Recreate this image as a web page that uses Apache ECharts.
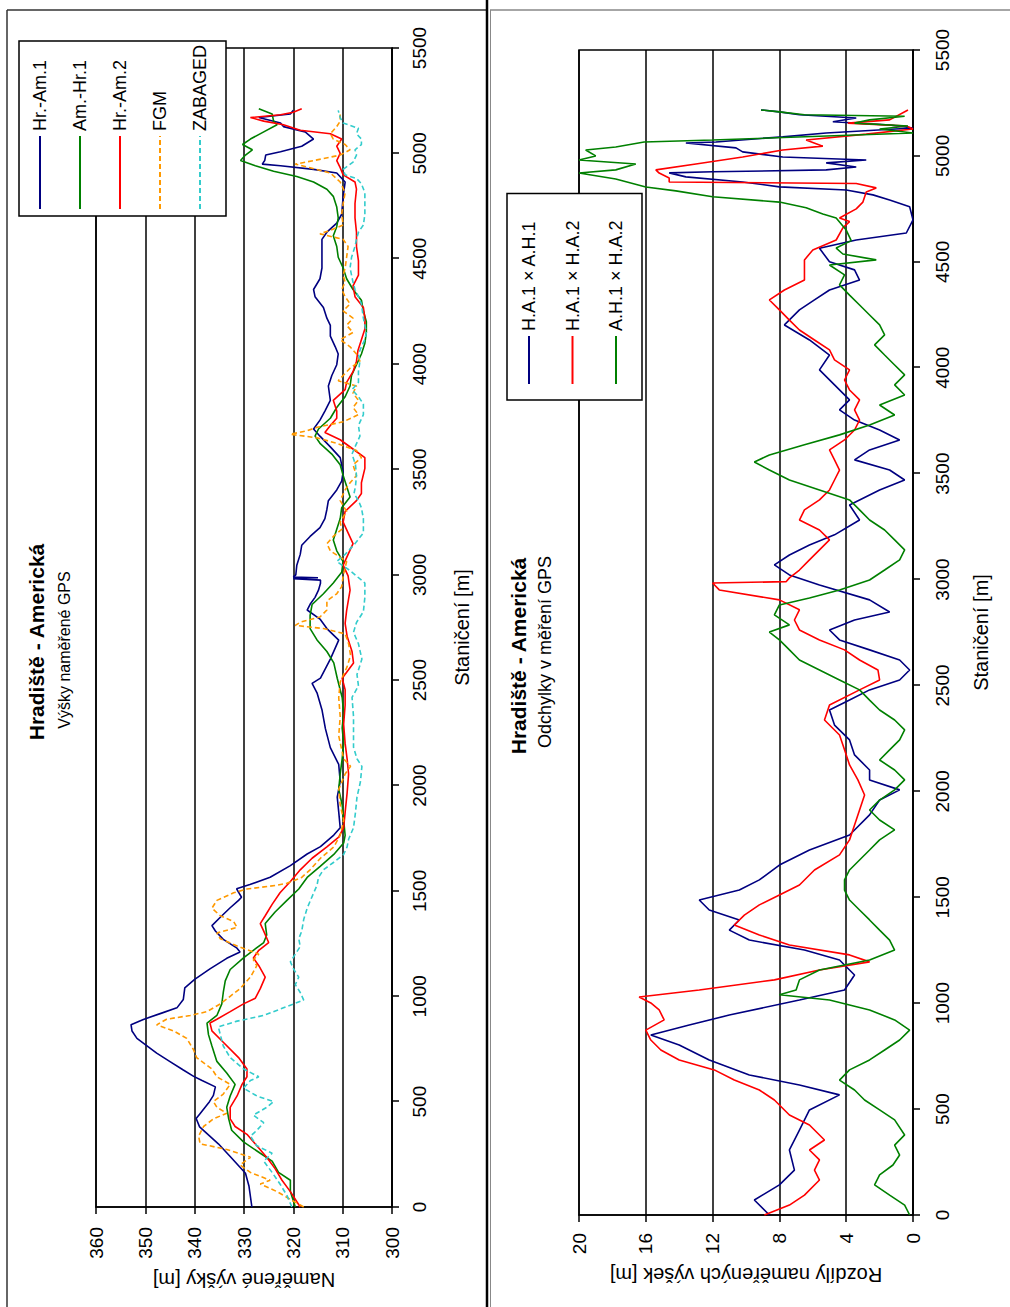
<!DOCTYPE html>
<html>
<head>
<meta charset="utf-8">
<title>Hradiště - Americká</title>
<script src="https://cdn.jsdelivr.net/npm/echarts@6.0.0/dist/echarts.min.js"></script>
<style>
  html, body { margin: 0; padding: 0; background: #fff; overflow: hidden; width: 1010px; height: 1307px; }
  /* the chart is drawn landscape and turned 90 degrees counter-clockwise, like the scanned sheet */
  #chart { position: absolute; left: 0; top: 0; width: 1307px; height: 1010px;
           transform-origin: 0 0; transform: translate(0, 1307px) rotate(-90deg); }
</style>
</head>
<body>
<div id="chart"></div>
<script>
// [staničení m, výška m]
const hrAm1 = [[0,328.4],[100,329],[160,329.7],[240,332.8],[300,335.2],[380,339],[420,339.7],[440,339],[470,338],[500,337],[530,336.2],[570,335.8],[600,338.5],[620,340.2],[650,342.3],[690,345],[730,347.7],[760,349.4],[800,351.7],[835,352.7],[865,352.9],[890,350.4],[920,346.7],[945,343.6],[985,342.3],[1040,342],[1080,340],[1130,336.9],[1180,333.5],[1210,330.8],[1230,331.5],[1270,334.2],[1310,335.8],[1335,336.5],[1375,334.8],[1420,332.8],[1455,331.1],[1470,330.5],[1510,331.5],[1530,328.8],[1565,324.7],[1620,320.6],[1675,317.2],[1710,314.5],[1765,311.8],[1800,310.5],[1875,310.8],[1945,311.1],[2020,310.5],[2100,310.8],[2180,312.5],[2270,313.5],[2360,314.2],[2440,315.2],[2485,316.2],[2510,314.5],[2600,312.5],[2690,310.8],[2745,313.2],[2790,314.6],[2833,317.2],[2860,316.6],[2893,315.6],[2927,314.9],[2960,314.5],[2975,314.5],[2982,320],[2986,315],[2990,320],[3000,319.5],[3045,319.3],[3097,318.6],[3140,318.3],[3182,316.6],[3224,314.6],[3267,313.6],[3310,313.2],[3352,312.9],[3403,311.2],[3445,310.2],[3488,309.9],[3556,310.5],[3607,312.5],[3658,314.6],[3692,315.9],[3734,314.6],[3777,313.6],[3828,312.5],[3896,312.9],[3946,312.2],[3997,311.2],[4048,310.9],[4082,311.5],[4133,312.5],[4184,312.5],[4218,313.2],[4269,313.9],[4320,315.6],[4354,315.9],[4405,314.6],[4456,314.2],[4524,314.2],[4592,314.2],[4626,313.2],[4669,311.2],[4711,310.2],[4796,309.9],[4864,309.5],[4907,311.2],[4924,315.9],[4941,322.6],[4949,326.3],[4966,325.8],[4992,325.6],[5008,322.6],[5034,318.3],[5068,315.9],[5102,317.6],[5127,322],[5144,322.6],[5170,327],[5187,320.6],[5204,320]];

const amHr1 = [[0,319.6],[73,320.6],[127,320.6],[164,323],[218,324.3],[255,326.7],[309,330.1],[364,332.5],[418,333.1],[473,333.5],[527,332.8],[582,331.8],[636,333.5],[691,335.5],[764,336.5],[818,337.2],[873,337.5],[909,335.5],[964,334.5],[1018,334.2],[1073,333.8],[1127,332.8],[1182,330.1],[1218,328.1],[1255,326],[1291,325.4],[1345,325.7],[1400,323.7],[1455,321.3],[1509,318.9],[1564,317.2],[1618,314.5],[1673,311.8],[1727,309.8],[1764,309.5],[1836,309.8],[1909,310.1],[1982,310.8],[2055,310.5],[2127,310.1],[2200,309.8],[2273,310.1],[2345,309.8],[2418,310.1],[2509,311.1],[2582,311.8],[2636,313.2],[2691,315.2],[2745,316.6],[2808,316.6],[2859,316.2],[2910,313.9],[2961,311.9],[3012,310.2],[3063,309.9],[3114,311.2],[3165,311.9],[3216,311.2],[3267,310.5],[3318,310.2],[3369,308.5],[3420,309.2],[3471,309.9],[3522,310.5],[3573,312.2],[3624,314.6],[3658,315.6],[3692,314.9],[3743,312.5],[3794,311.2],[3845,309.5],[3896,308.5],[3946,308.2],[3997,307.2],[4048,306.2],[4099,305.5],[4150,305.2],[4201,305.2],[4252,305.8],[4303,306.2],[4354,307.9],[4405,309.2],[4456,309.9],[4507,310.9],[4558,311.2],[4609,311.9],[4652,311.2],[4694,310.9],[4745,311.2],[4796,311.9],[4830,313.2],[4864,315.9],[4890,319.3],[4915,324],[4941,327.7],[4966,330.7],[4992,329.7],[5017,328.3],[5042,330.3],[5068,328.7],[5102,326],[5136,323.3],[5153,324],[5187,324.3],[5212,327]];

const hrAm2 = [[0,318.6],[73,320.6],[127,322.3],[182,323.7],[236,325.4],[291,327.4],[345,329.4],[382,331.8],[418,332.8],[473,332.8],[527,331.4],[582,330.4],[618,329.4],[655,329.4],[709,331.1],[782,334.2],[836,336.5],[873,336.9],[891,335.5],[927,332.8],[964,330.1],[991,327.7],[1036,326.7],[1091,325.7],[1145,327],[1182,328.1],[1218,327],[1255,325],[1309,326],[1345,326.7],[1382,325.7],[1436,324.3],[1491,322.7],[1545,320.6],[1600,318.6],[1655,316.2],[1709,313.2],[1755,310.8],[1800,309.8],[1873,309.5],[1964,309.1],[2055,308.8],[2127,309.1],[2200,309.5],[2291,309.8],[2382,309.5],[2455,309.5],[2509,310.1],[2582,307.8],[2636,308.1],[2709,309.1],[2770,309.5],[2830,309.2],[2927,308.5],[2995,308.9],[3046,309.9],[3097,308.9],[3148,307.9],[3199,308.9],[3250,309.9],[3301,309.5],[3352,307.2],[3386,306.2],[3437,306.2],[3505,305.5],[3556,305.5],[3590,307.5],[3641,310.5],[3675,313.6],[3709,312.5],[3743,311.2],[3777,311.2],[3828,311.9],[3879,309.5],[3913,309.2],[3964,307.9],[4014,307.2],[4065,306.9],[4116,306.2],[4167,305.5],[4218,305.5],[4269,305.8],[4320,307.5],[4371,307.9],[4422,306.8],[4490,306.8],[4558,307.2],[4626,307.2],[4694,307.5],[4762,307.5],[4830,307.2],[4864,307.5],[4898,309.9],[4932,310.5],[4966,311.2],[5000,310.5],[5034,311.2],[5068,310.2],[5093,312.5],[5110,318.6],[5136,322],[5153,326],[5170,328.7],[5183,322.6],[5195,320],[5212,318.3]];

const fgm = [[0,317.9],[36,320.6],[73,323.3],[109,326.7],[127,324.7],[164,328.7],[200,330.8],[236,328.7],[273,333.5],[300,338.9],[336,339.2],[382,338.2],[418,336.2],[445,333.5],[473,335.5],[500,336.2],[536,334.2],[582,332.8],[618,335.5],[655,336.5],[709,339.6],[745,340.2],[800,341.6],[836,344.3],[864,347.7],[891,345.7],[909,340.9],[927,337.5],[964,334.8],[1000,332.8],[1036,330.8],[1091,328.7],[1145,327.4],[1173,328.1],[1200,327],[1236,331.1],[1273,334.8],[1300,335.5],[1327,331.4],[1355,332.1],[1382,334.8],[1418,336.5],[1455,335.5],[1491,332.1],[1509,329.4],[1527,323.3],[1536,321.3],[1564,318.3],[1600,316.6],[1655,314.5],[1709,311.8],[1764,310.5],[1836,309.8],[1909,310.5],[1982,310.8],[2055,309.5],[2091,308.4],[2127,309.8],[2236,310.8],[2327,310.5],[2418,310.8],[2491,310.5],[2564,309.1],[2618,308.4],[2673,308.8],[2720,309.5],[2745,313.9],[2760,319.6],[2775,318.6],[2800,314.6],[2833,313.2],[2876,313.2],[2910,311.2],[2944,310.2],[2995,309.9],[3063,309.2],[3114,312.5],[3148,313.2],[3182,311.9],[3216,310.2],[3250,310.5],[3301,309.2],[3352,310.5],[3403,309.5],[3437,308.5],[3471,307.2],[3522,307.9],[3556,306.2],[3590,307.2],[3624,311.2],[3650,315.2],[3667,320.6],[3684,317.2],[3700,315.2],[3726,309.9],[3760,306.8],[3794,307.9],[3828,306.8],[3862,307.9],[3896,307.2],[3921,310.9],[3946,309.9],[3980,308.5],[4014,306.5],[4048,307.2],[4082,308.5],[4116,310.5],[4150,307.9],[4184,309.2],[4218,307.9],[4252,309.9],[4286,308.5],[4320,309.5],[4354,310.2],[4388,309.5],[4422,309.9],[4456,309.5],[4507,309.2],[4558,308.9],[4592,309.9],[4618,314.6],[4635,312.5],[4660,309.9],[4711,310.2],[4762,309.9],[4813,309.5],[4864,310.5],[4907,312.5],[4932,316.6],[4949,319.6],[4975,313.9],[4992,310.5],[5017,308.5],[5042,309.5],[5068,311.9],[5093,312.5],[5127,311.2],[5153,310.5],[5187,310.5]];

const zabaged = [[0,320.3],[55,321.3],[109,322.7],[164,324.3],[218,326],[255,324.3],[291,327.4],[336,328.7],[364,327.4],[400,326],[436,328.1],[473,325.4],[500,324],[527,327.4],[564,330.1],[600,328.7],[618,327],[655,330.1],[709,332.8],[764,334.2],[818,334.8],[855,335.2],[882,331.4],[909,326],[945,322],[982,317.9],[1018,318.6],[1055,319.6],[1091,318.9],[1127,319.9],[1164,320.6],[1200,319.6],[1236,318.6],[1273,318.9],[1309,318.3],[1364,317.9],[1418,317.2],[1473,316.2],[1527,315.2],[1564,314.9],[1600,313.9],[1636,311.8],[1673,309.8],[1709,309.1],[1745,308.8],[1800,307.8],[1873,307.4],[1945,307.1],[2018,306.4],[2091,306.1],[2127,307.1],[2182,307.8],[2255,307.8],[2327,307.8],[2418,308.1],[2473,306.8],[2527,307.1],[2600,306.1],[2673,306.8],[2727,307.8],[2774,307.2],[2825,305.8],[2893,305.5],[2961,305.5],[3020,308.5],[3063,311.2],[3097,309.5],[3148,307.5],[3199,305.8],[3267,305.8],[3318,306.2],[3352,306.8],[3386,307.7],[3420,307.4],[3471,307.2],[3522,307.4],[3573,308.1],[3607,307.5],[3658,306.5],[3709,306.8],[3760,305.8],[3811,305.8],[3845,306.8],[3879,308.1],[3913,306.8],[3964,306.8],[4014,306.5],[4048,306.8],[4082,306.2],[4116,305.5],[4150,305.2],[4184,305.5],[4218,305.8],[4286,306.2],[4320,306.8],[4354,307.5],[4388,307.9],[4422,308.2],[4456,308.5],[4507,308.2],[4558,307.5],[4592,307.2],[4626,306.8],[4660,305.8],[4711,305.5],[4762,305.5],[4813,305.5],[4856,306.2],[4881,307.2],[4898,309.5],[4924,309.9],[4958,307.9],[4992,307.2],[5017,307.5],[5042,306.2],[5068,306.2],[5093,307.2],[5119,306.8],[5144,309.9],[5170,310.5],[5204,310.9]];

// [staničení m, rozdíl m]
const ha1ah1 = [[0,8.6],[71,9.5],[142,8.0],[212,7.1],[307,7.4],[401,6.8],[496,6.2],[567,4.4],[614,6.8],[661,9.8],[732,12.2],[803,14],[850,15.7],[897,13.4],[944,11.0],[1015,6.8],[1062,4.1],[1133,3.5],[1204,4.4],[1251,6.5],[1298,9.8],[1345,11.0],[1393,10.4],[1440,12.2],[1487,12.8],[1534,10.4],[1582,9.2],[1652,8.0],[1723,6.2],[1794,3.8],[1889,2.6],[1959,2.0],[2007,0.8],[2054,2.6],[2101,2.6],[2172,3.5],[2243,3.8],[2313,4.7],[2384,5.0],[2431,3.8],[2479,2.6],[2526,0.8],[2573,0.2],[2620,0.8],[2668,2.6],[2715,4.4],[2762,5.0],[2809,3.5],[2847,1.4],[2904,2.6],[2974,5.6],[3022,7.4],[3069,8.3],[3116,7.4],[3163,6.2],[3211,4.7],[3281,3.2],[3352,3.8],[3423,2.0],[3470,0.5],[3517,1.4],[3565,3.5],[3612,2.6],[3659,0.8],[3706,2.0],[3753,3.5],[3801,4.4],[3848,3.8],[3919,4.7],[3990,5.6],[4060,5.0],[4131,6.2],[4202,7.7],[4273,6.8],[4320,5.9],[4367,5.0],[4414,3.2],[4462,3.5],[4500,5.0],[4564,5.6],[4603,3.4],[4636,0.4],[4698,0],[4760,0.2],[4792,1.4],[4816,2.4],[4839,4.0],[4854,8.0],[4877,10.2],[4901,13.6],[4920,14.6],[4925,12.0],[4934,5.2],[4948,3.4],[4967,5.2],[4981,2.8],[4995,7.8],[5019,10.2],[5038,10.6],[5061,13.6],[5066,11.8],[5090,7.8],[5108,5.2],[5132,0],[5146,1.4],[5161,4.8],[5179,3.4],[5194,6.8],[5208,8.0],[5217,9.1]];

const ha1ha2 = [[0,8.9],[47,7.4],[94,6.5],[165,5.6],[212,5.9],[260,5.6],[307,6.2],[354,5.3],[425,6.2],[472,7.4],[543,8.3],[590,9.2],[637,10.7],[685,11.9],[732,14.0],[779,15.1],[826,15.7],[873,16.0],[921,14.9],[968,15.2],[1001,15.7],[1029,16.4],[1062,12.8],[1110,8.3],[1157,5.6],[1195,2.6],[1228,3.8],[1275,7.4],[1322,9.2],[1369,10.7],[1416,10.1],[1464,9.2],[1511,8.0],[1558,6.8],[1629,5.9],[1700,4.4],[1771,3.8],[1841,3.5],[1912,3.2],[1983,2.9],[2054,3.3],[2125,3.8],[2196,4.1],[2266,4.4],[2337,5.3],[2408,5.0],[2479,3.2],[2526,2.0],[2573,2.1],[2620,3.2],[2668,4.1],[2715,5.6],[2762,6.8],[2809,7.1],[2857,6.8],[2904,8.0],[2951,11.6],[2984,12.0],[2990,7.6],[3008,7.4],[3045,6.8],[3093,6.2],[3140,5.6],[3187,5.0],[3234,5.6],[3281,6.8],[3329,6.5],[3376,5.6],[3423,5.0],[3470,4.7],[3517,4.4],[3565,4.7],[3612,5.0],[3659,4.1],[3706,3.5],[3753,3.2],[3801,3.5],[3848,3.2],[3895,3.8],[3942,4.1],[3990,3.8],[4037,4.7],[4084,5.0],[4131,5.9],[4178,6.8],[4225,7.4],[4273,8.0],[4320,8.6],[4367,7.7],[4414,6.5],[4462,6.5],[4509,6.5],[4556,6.0],[4603,4.6],[4660,4.2],[4690,3.8],[4707,4.4],[4750,3.4],[4782,3.0],[4830,2.8],[4849,2.2],[4870,3.4],[4877,14.6],[4896,14.6],[4919,15.2],[4934,15.4],[4962,13.0],[4995,10.2],[5028,7.8],[5046,5.4],[5075,6.4],[5103,2.8],[5127,0],[5141,0.4],[5155,3.9],[5170,1.4],[5217,0.3]];

const ah1ha2 = [[0,0.2],[47,0.5],[94,1.4],[142,2.3],[189,2.0],[236,1.2],[283,0.8],[330,1.1],[378,0.5],[449,1.1],[496,2.0],[543,2.9],[590,3.5],[637,4.4],[685,3.8],[732,2.6],[779,1.7],[826,0.8],[873,0.2],[921,1.1],[968,2.6],[1015,5.0],[1040,8.0],[1062,7.0],[1110,6.8],[1157,5.6],[1204,2.6],[1251,1.1],[1298,1.4],[1345,2.0],[1393,2.6],[1440,3.2],[1487,3.8],[1534,4.1],[1582,4.1],[1629,3.8],[1676,3.2],[1723,2.6],[1771,2.0],[1818,1.1],[1865,2.0],[1912,2.6],[1959,2.0],[2007,1.1],[2054,0.5],[2101,1.1],[2148,2.0],[2196,1.4],[2243,0.8],[2290,0.5],[2337,1.1],[2384,2.0],[2431,2.6],[2479,3.2],[2526,4.4],[2573,5.6],[2620,6.8],[2668,7.4],[2715,8.0],[2752,8.6],[2786,7.4],[2833,8.3],[2880,8.0],[2913,6.2],[2951,4.4],[2998,2.6],[3045,1.7],[3093,0.8],[3140,0.5],[3187,1.1],[3234,1.7],[3281,2.6],[3329,3.2],[3376,3.8],[3423,5.6],[3470,7.4],[3517,8.6],[3555,9.5],[3588,8.6],[3636,6.5],[3683,4.4],[3730,2.6],[3777,1.1],[3824,2.0],[3871,0.5],[3919,1.1],[3966,0.5],[4013,1.1],[4060,1.7],[4108,2.3],[4155,1.7],[4202,2.0],[4249,2.6],[4296,3.2],[4343,3.8],[4391,4.4],[4438,4.1],[4485,5.0],[4509,2.2],[4537,4.2],[4565,4.6],[4600,3.7],[4650,4.0],[4707,4.6],[4726,5.4],[4755,6.4],[4782,8.0],[4807,12.0],[4835,14.2],[4853,16.0],[4891,17.8],[4919,20.0],[4934,17.8],[4962,16.6],[4981,20.0],[5000,19.0],[5028,19.6],[5042,17.8],[5066,16.1],[5075,12.0],[5108,0],[5127,2.0],[5141,0.3],[5155,3.5],[5170,2.6],[5187,0.5],[5194,6.5],[5208,8.0],[5217,9.1]];

const heightNames = ['Hr.-Am.1', 'Am.-Hr.1', 'Hr.-Am.2', 'FGM', 'ZABAGED'];
const diffNames = ['H.A.1 × A.H.1', 'H.A.1 × H.A.2', 'A.H.1 × H.A.2'];

const FONT = '"Liberation Sans", Arial, sans-serif';
const chart = echarts.init(document.getElementById('chart'), null, { renderer: 'svg' });

function line(name, data, color, idx, dashed) {
  return {
    name: name, type: 'line', xAxisIndex: idx, yAxisIndex: idx,
    data: data, symbol: 'none', showSymbol: false, animation: false,
    lineStyle: { color: color, width: 1.6, type: dashed ? [5, 3] : 'solid' },
    itemStyle: { color: color }
  };
}

function stationAxis(idx, margin, gap) {
  return {
    gridIndex: idx, type: 'value', min: 0, max: 5500, interval: 500,
    name: 'Staničení [m]', nameLocation: 'middle', nameGap: gap,
    nameTextStyle: { color: '#000', fontSize: 20, fontFamily: FONT },
    axisLine: { lineStyle: { color: '#000', width: 1.5 } },
    axisTick: { length: 7, lineStyle: { color: '#000', width: 1.5 } },
    axisLabel: { color: '#000', fontSize: 19, margin: margin, fontFamily: FONT, formatter: v => String(v) },
    splitLine: { show: false }
  };
}

function valueAxis(idx, min, max, step, name, margin, gap) {
  return {
    gridIndex: idx, type: 'value', min: min, max: max, interval: step,
    name: name, nameLocation: 'middle', nameRotate: 90, nameGap: gap,
    nameTextStyle: { color: '#000', fontSize: 20, fontFamily: FONT },
    axisLine: { lineStyle: { color: '#000', width: 1.5 } },
    axisTick: { length: 7, lineStyle: { color: '#000', width: 1.5 } },
    axisLabel: { color: '#000', fontSize: 19, margin: margin, fontFamily: FONT, formatter: v => String(v) },
    splitLine: { lineStyle: { color: '#000', width: 1.5 } }
  };
}

const legendText = { color: '#000', fontSize: 18, fontFamily: FONT };

const option = {
  animation: false,
  backgroundColor: '#fff',
  grid: [
    { left: 100, right: 48, top: 96, height: 296, show: true, borderColor: '#000', borderWidth: 1.5, outerBoundsMode: 'none' },
    { left: 92, right: 50, top: 579, height: 334, show: true, borderColor: '#000', borderWidth: 1.5, outerBoundsMode: 'none' }
  ],
  xAxis: [stationAxis(0, 18, 60), stationAxis(1, 20, 58)],
  yAxis: [
    valueAxis(0, 300, 360, 10, 'Naměřené výšky [m]', 20, 61),
    valueAxis(1, 0, 20, 4, 'Rozdíly naměřených výšek [m]', 18, 50)
  ],
  legend: [
    {
      data: heightNames, orient: 'vertical', left: 1091, top: 19,
      itemWidth: 73, itemHeight: 14, itemGap: 22, padding: [12, 4, 17, 6],
      borderColor: '#000', borderWidth: 1.5, backgroundColor: '#fff',
      itemStyle: { opacity: 0 },
      textStyle: legendText, selectedMode: false
    },
    {
      data: diffNames, orient: 'vertical', left: 907, top: 507,
      itemWidth: 48, itemHeight: 14, itemGap: 25.5, padding: [13, 27, 17, 15],
      borderColor: '#000', borderWidth: 1.5, backgroundColor: '#fff',
      itemStyle: { opacity: 0 },
      textStyle: legendText, selectedMode: false
    }
  ],
  graphic: [
    // sheet frames
    { type: 'line', shape: { x1: 0, y1: 7, x2: 1297, y2: 7 }, style: { stroke: '#333', lineWidth: 1.5 } },
    { type: 'line', shape: { x1: 1297, y1: 7, x2: 1297, y2: 487 }, style: { stroke: '#333', lineWidth: 1.5 } },
    { type: 'line', shape: { x1: 0, y1: 487, x2: 1307, y2: 487 }, style: { stroke: '#000', lineWidth: 2.5 } },
    { type: 'line', shape: { x1: 0, y1: 490.5, x2: 1297, y2: 490.5 }, style: { stroke: '#888', lineWidth: 1 } },
    { type: 'line', shape: { x1: 1297, y1: 490, x2: 1297, y2: 1010 }, style: { stroke: '#888', lineWidth: 1.5 } },
    // titles
    { type: 'text', x: 665, y: 36, style: { text: 'Hradiště - Americká', fill: '#000', fontSize: 21, fontWeight: 'bold', fontFamily: FONT, align: 'center', verticalAlign: 'middle' } },
    { type: 'text', x: 657, y: 64, style: { text: 'Výšky naměřené GPS', fill: '#000', fontSize: 16, fontFamily: FONT, align: 'center', verticalAlign: 'middle' } },
    { type: 'text', x: 651, y: 518, style: { text: 'Hradiště - Americká', fill: '#000', fontSize: 21, fontWeight: 'bold', fontFamily: FONT, align: 'center', verticalAlign: 'middle' } },
    { type: 'text', x: 655, y: 545, style: { text: 'Odchylky v měření GPS', fill: '#000', fontSize: 18, fontFamily: FONT, align: 'center', verticalAlign: 'middle' } }
  ],
  series: [
    line('Hr.-Am.1', hrAm1, '#000080', 0, false),
    line('Am.-Hr.1', amHr1, '#008000', 0, false),
    line('Hr.-Am.2', hrAm2, '#ff0000', 0, false),
    line('FGM', fgm, '#ff9900', 0, true),
    line('ZABAGED', zabaged, '#33cccc', 0, true),
    line('H.A.1 × A.H.1', ha1ah1, '#000080', 1, false),
    line('H.A.1 × H.A.2', ha1ha2, '#ff0000', 1, false),
    line('A.H.1 × H.A.2', ah1ha2, '#008000', 1, false)
  ]
};

chart.setOption(option);
</script>
</body>
</html>
